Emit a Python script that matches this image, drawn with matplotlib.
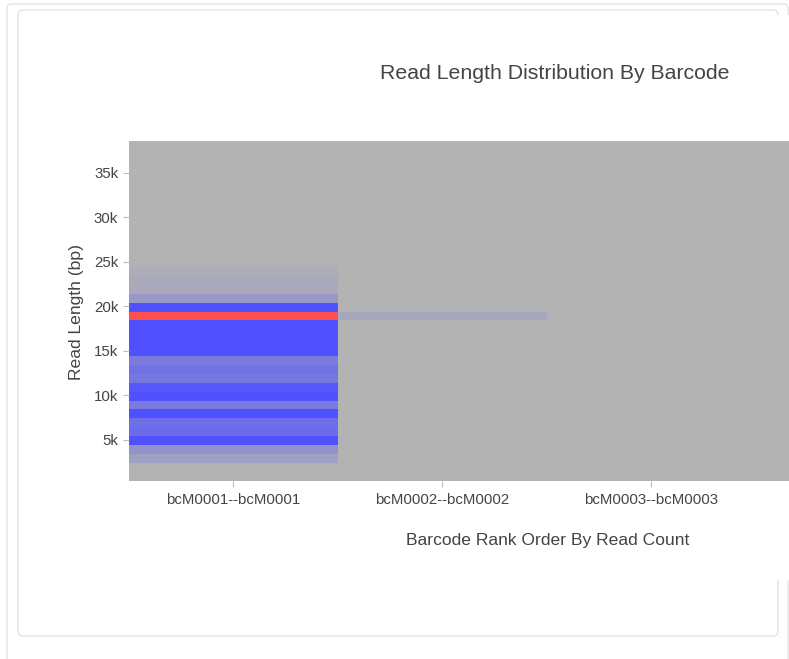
import numpy as np
import matplotlib
matplotlib.use("Agg")
import matplotlib.pyplot as plt
from matplotlib.colors import LinearSegmentedColormap
from matplotlib.patches import FancyBboxPatch, Rectangle
from matplotlib.transforms import IdentityTransform

plt.rcParams['font.family'] = ['Liberation Sans', 'DejaVu Sans']

W, H = 789, 659

# barcodes (x categories) and read length bins (lower edge, bp)
barcodes = ["bcM0001--bcM0001", "bcM0002--bcM0002", "bcM0003--bcM0003"]
bin_start = 400
bin_width = 1000
n_bins = 38

# read counts per 1 kb bin, lowest bin first (relative units)
counts_bc1 = [0, 0.4, 6, 10, 40, 22, 21, 35, 17, 38, 28, 18, 20, 17,
              45, 55, 62, 70, 100, 48, 8, 3.3, 3.0, 2.2, 0.4, 0.3, 0.3,
              0, 0, 0, 0, 0, 0, 0, 0, 0, 0, 0]
counts_bc2 = [0] * 18 + [4] + [0] * 19
counts_bc3 = [0] * 38

ytick_vals = [5000, 10000, 15000, 20000, 25000, 30000, 35000]
ytick_labels = ["5k", "10k", "15k", "20k", "25k", "30k", "35k"]

gray = "#b3b3b3"
cmap = LinearSegmentedColormap.from_list(
    "rld", [(0.0, gray), (0.3, "#5050ff"), (0.9, "#5050ff"), (1.0, "#ff5050")])

fig = plt.figure(figsize=(W / 100, H / 100), dpi=100, facecolor="white")

def px(x0, y0, x1, y1):
    # top-left pixel box -> display coords (origin bottom-left)
    return x0, H - y1, x1 - x0, y1 - y0

# outer panel frame
x, y, w, h = px(7, 4, 788, 720)
fig.add_artist(FancyBboxPatch((x, y), w, h, boxstyle="round,pad=0,rounding_size=4",
                              fc="white", ec="#dddddd", lw=0.8,
                              transform=IdentityTransform(), zorder=-3))
# inner card
x, y, w, h = px(18, 10, 778, 636)
fig.add_artist(FancyBboxPatch((x, y), w, h, boxstyle="round,pad=0,rounding_size=5",
                              fc="white", ec="#dddddd", lw=0.8,
                              transform=IdentityTransform(), zorder=-2))
# plot background covers the card's right edge
x, y, w, h = px(30, 15, 789, 580)
fig.add_artist(Rectangle((x, y), w, h, fc="white", ec="none",
                         transform=IdentityTransform(), zorder=-1))

ax = fig.add_axes([129 / W, (H - 481) / H, (W - 129) / W, 340 / H])
ax.set_facecolor(gray)

z = np.array([counts_bc1, counts_bc2, counts_bc3]).T
xedges = np.arange(len(barcodes) + 1) - 0.5
yedges = bin_start + bin_width * np.arange(n_bins + 1)
ax.pcolormesh(xedges, yedges, z, cmap=cmap, vmin=0, vmax=max(counts_bc1))

ax.set_xlim(-0.5, 2.66)
ax.set_ylim(360, 38560)
for s in ax.spines.values():
    s.set_visible(False)

ax.set_xticks(range(len(barcodes)))
ax.set_xticklabels(barcodes)
ax.set_yticks(ytick_vals)
ax.set_yticklabels(ytick_labels)
ax.tick_params(axis="both", length=4, width=0.8, color="#bbbbbb",
               labelcolor="#444444", labelsize=10.8)
ax.tick_params(axis="y", pad=3.8)
ax.tick_params(axis="x", pad=4.3)

fig.text(555 / W, 1 - 79 / H, "Read Length Distribution By Barcode",
         ha="center", va="baseline", fontsize=15.3, color="#444444")
fig.text(548 / W, 1 - 545 / H, "Barcode Rank Order By Read Count",
         ha="center", va="baseline", fontsize=12.6, color="#444444")
fig.text(76 / W, 1 - 312 / H, "Read Length (bp)", rotation=90,
         ha="center", va="center", fontsize=12.6, color="#444444")

fig.savefig("out.png", dpi=100, facecolor="white")
